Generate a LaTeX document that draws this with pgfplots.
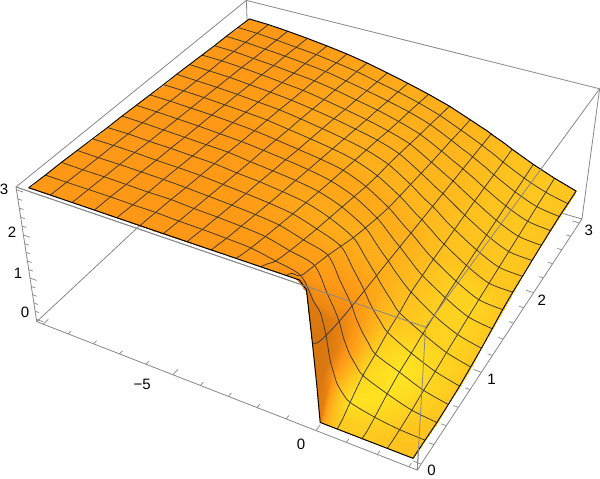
\documentclass[border=0pt]{standalone}
\usepackage{fontspec}
\setmainfont{Liberation Sans}
\usepackage{pgfplots}
\usepackage{pgfplotstable}
\pgfplotsset{compat=1.18}
\pgfplotstableread{
x y z c
-10 3 2.72 1.0
-9.1875 3 2.70 1.0
-8.375 3 2.66 1.0
-7.5625 3 2.61 1.05
-6.75 3 2.55 1.1
-5.9375 3 2.48 1.2
-5.125 3 2.39 1.3
-4.3125 3 2.28 1.4
-3.5 3 2.16 1.5
-2.6875 3 2.03 1.55
-1.875 3 1.88 1.6
-1.0625 3 1.69 1.7
-0.65 3 1.59 1.75
-0.43 3 1.54 1.8
-0.25 3 1.49 1.8
-0.12 3 1.45 1.85
0 3 1.42 1.85
0.12 3 1.39 1.9
0.3 3 1.34 1.95
0.5625 3 1.26 2.0
1.375 3 1.04 2.1
2.1875 3 0.85 2.2
3 3 0.69 2.1
-10 2.8125 2.74 1.0
-9.1875 2.8125 2.72 1.0
-8.375 2.8125 2.68 1.0
-7.5625 2.8125 2.63 1.05
-6.75 2.8125 2.58 1.1
-5.9375 2.8125 2.51 1.2
-5.125 2.8125 2.43 1.3
-4.3125 2.8125 2.32 1.4
-3.5 2.8125 2.21 1.5
-2.6875 2.8125 2.08 1.55
-1.875 2.8125 1.92 1.6
-1.0625 2.8125 1.71 1.7
-0.65 2.8125 1.60 1.75
-0.43 2.8125 1.54 1.8
-0.25 2.8125 1.49 1.8
-0.12 2.8125 1.45 1.85
0 2.8125 1.41 1.85
0.12 2.8125 1.38 1.9
0.3 2.8125 1.32 1.95
0.5625 2.8125 1.23 2.0
1.375 2.8125 0.99 2.1
2.1875 2.8125 0.80 2.2
3 2.8125 0.68 2.1
-10 2.625 2.76 1.0
-9.1875 2.625 2.74 1.0
-8.375 2.625 2.70 1.0
-7.5625 2.625 2.66 1.05
-6.75 2.625 2.61 1.1
-5.9375 2.625 2.55 1.2
-5.125 2.625 2.46 1.3
-4.3125 2.625 2.36 1.4
-3.5 2.625 2.25 1.5
-2.6875 2.625 2.13 1.55
-1.875 2.625 1.97 1.6
-1.0625 2.625 1.74 1.7
-0.65 2.625 1.61 1.75
-0.43 2.625 1.55 1.8
-0.25 2.625 1.49 1.8
-0.12 2.625 1.45 1.85
0 2.625 1.41 1.85
0.12 2.625 1.37 1.9
0.3 2.625 1.31 1.95
0.5625 2.625 1.21 2.0
1.375 2.625 0.95 2.1
2.1875 2.625 0.75 2.2
3 2.625 0.67 2.1
-10 2.4375 2.77 1.0
-9.1875 2.4375 2.76 1.0
-8.375 2.4375 2.72 1.0
-7.5625 2.4375 2.68 1.05
-6.75 2.4375 2.63 1.1
-5.9375 2.4375 2.58 1.2
-5.125 2.4375 2.50 1.3
-4.3125 2.4375 2.40 1.4
-3.5 2.4375 2.30 1.5
-2.6875 2.4375 2.17 1.55
-1.875 2.4375 2.01 1.6
-1.0625 2.4375 1.76 1.7
-0.65 2.4375 1.62 1.75
-0.43 2.4375 1.55 1.8
-0.25 2.4375 1.49 1.8
-0.12 2.4375 1.44 1.85
0 2.4375 1.40 1.85
0.12 2.4375 1.36 1.9
0.3 2.4375 1.29 1.95
0.5625 2.4375 1.19 2.0
1.375 2.4375 0.91 2.1
2.1875 2.4375 0.70 2.2
3 2.4375 0.64 2.1
-10 2.25 2.79 1.0
-9.1875 2.25 2.78 1.0
-8.375 2.25 2.75 1.0
-7.5625 2.25 2.71 1.05
-6.75 2.25 2.66 1.1
-5.9375 2.25 2.61 1.2
-5.125 2.25 2.53 1.3
-4.3125 2.25 2.44 1.4
-3.5 2.25 2.34 1.5
-2.6875 2.25 2.22 1.55
-1.875 2.25 2.06 1.6
-1.0625 2.25 1.78 1.7
-0.65 2.25 1.63 1.75
-0.43 2.25 1.55 1.8
-0.25 2.25 1.49 1.8
-0.12 2.25 1.44 1.85
0 2.25 1.39 1.85
0.12 2.25 1.34 1.9
0.3 2.25 1.27 1.95
0.5625 2.25 1.17 2.0
1.375 2.25 0.87 2.1
2.1875 2.25 0.65 2.2
3 2.25 0.60 2.1
-10 2.0625 2.81 1.0
-9.1875 2.0625 2.79 1.0
-8.375 2.0625 2.77 1.0
-7.5625 2.0625 2.73 1.05
-6.75 2.0625 2.69 1.1
-5.9375 2.0625 2.64 1.2
-5.125 2.0625 2.57 1.3
-4.3125 2.0625 2.49 1.4
-3.5 2.0625 2.39 1.5
-2.6875 2.0625 2.28 1.55
-1.875 2.0625 2.11 1.6
-1.0625 2.0625 1.81 1.7
-0.65 2.0625 1.64 1.75
-0.43 2.0625 1.55 1.8
-0.25 2.0625 1.49 1.8
-0.12 2.0625 1.43 1.85
0 2.0625 1.38 1.85
0.12 2.0625 1.33 1.9
0.3 2.0625 1.25 1.95
0.5625 2.0625 1.14 2.0
1.375 2.0625 0.83 2.1
2.1875 2.0625 0.60 2.2
3 2.0625 0.56 2.1
-10 1.875 2.83 1.0
-9.1875 1.875 2.81 1.0
-8.375 1.875 2.79 1.0
-7.5625 1.875 2.76 1.05
-6.75 1.875 2.72 1.1
-5.9375 1.875 2.68 1.2
-5.125 1.875 2.61 1.3
-4.3125 1.875 2.53 1.4
-3.5 1.875 2.44 1.5
-2.6875 1.875 2.33 1.55
-1.875 1.875 2.15 1.6
-1.0625 1.875 1.84 1.7
-0.65 1.875 1.65 1.75
-0.43 1.875 1.56 1.8
-0.25 1.875 1.49 1.8
-0.12 1.875 1.43 1.85
0 1.875 1.37 1.85
0.12 1.875 1.31 1.9
0.3 1.875 1.22 1.95
0.5625 1.875 1.11 2.0
1.375 1.875 0.79 2.1
2.1875 1.875 0.55 2.2
3 1.875 0.51 2.1
-10 1.6875 2.84 1.0
-9.1875 1.6875 2.83 1.0
-8.375 1.6875 2.81 1.0
-7.5625 1.6875 2.78 1.05
-6.75 1.6875 2.75 1.1
-5.9375 1.6875 2.71 1.2
-5.125 1.6875 2.64 1.3
-4.3125 1.6875 2.57 1.4
-3.5 1.6875 2.49 1.5
-2.6875 1.6875 2.38 1.55
-1.875 1.6875 2.18 1.6
-1.0625 1.6875 1.87 1.7
-0.65 1.6875 1.67 1.75
-0.43 1.6875 1.56 1.8
-0.25 1.6875 1.49 1.8
-0.12 1.6875 1.42 1.85
0 1.6875 1.36 1.85
0.12 1.6875 1.30 1.9
0.3 1.6875 1.20 1.95
0.5625 1.6875 1.08 2.0
1.375 1.6875 0.75 2.1
2.1875 1.6875 0.50 2.2
3 1.6875 0.47 2.1
-10 1.5 2.86 1
-9.1875 1.5 2.85 1
-8.375 1.5 2.83 1
-7.5625 1.5 2.81 1
-6.75 1.5 2.78 1
-5.9375 1.5 2.74 1.05
-5.125 1.5 2.68 1.1
-4.3125 1.5 2.61 1.15
-3.5 1.5 2.54 1.25
-2.6875 1.5 2.44 1.35
-1.875 1.5 2.23 1.4
-1.0625 1.5 1.91 1.5
-0.65 1.5 1.69 1.55
-0.43 1.5 1.57 1.6
-0.25 1.5 1.49 1.6
-0.12 1.5 1.42 1.65
0 1.5 1.35 1.7
0.12 1.5 1.28 1.75
0.3 1.5 1.18 1.85
0.5625 1.5 1.05 2.0
1.375 1.5 0.71 2.4
2.1875 1.5 0.45 2.5
3 1.5 0.40 2.2
-10 1.3125 2.88 1
-9.1875 1.3125 2.87 1
-8.375 1.3125 2.85 1
-7.5625 1.3125 2.83 1
-6.75 1.3125 2.80 1
-5.9375 1.3125 2.77 1.05
-5.125 1.3125 2.72 1.1
-4.3125 1.3125 2.66 1.15
-3.5 1.3125 2.59 1.25
-2.6875 1.3125 2.49 1.35
-1.875 1.3125 2.30 1.4
-1.0625 1.3125 1.98 1.5
-0.65 1.3125 1.73 1.55
-0.43 1.3125 1.59 1.6
-0.25 1.3125 1.49 1.6
-0.12 1.3125 1.41 1.65
0 1.3125 1.33 1.7
0.12 1.3125 1.26 1.75
0.3 1.3125 1.14 1.85
0.5625 1.3125 1.00 2.0
1.375 1.3125 0.66 2.4
2.1875 1.3125 0.39 2.5
3 1.3125 0.30 2.2
-10 1.125 2.90 1
-9.1875 1.125 2.89 1
-8.375 1.125 2.87 1
-7.5625 1.125 2.85 1
-6.75 1.125 2.83 1
-5.9375 1.125 2.81 1.05
-5.125 1.125 2.75 1.1
-4.3125 1.125 2.70 1.15
-3.5 1.125 2.64 1.25
-2.6875 1.125 2.55 1.35
-1.875 1.125 2.37 1.4
-1.0625 1.125 2.07 1.5
-0.65 1.125 1.77 1.55
-0.43 1.125 1.61 1.6
-0.25 1.125 1.49 1.6
-0.12 1.125 1.39 1.65
0 1.125 1.30 1.7
0.12 1.125 1.22 1.75
0.3 1.125 1.10 1.85
0.5625 1.125 0.95 2.0
1.375 1.125 0.59 2.4
2.1875 1.125 0.33 2.5
3 1.125 0.20 2.2
-10 0.9375 2.91 1
-9.1875 0.9375 2.91 1
-8.375 0.9375 2.89 1
-7.5625 0.9375 2.88 1
-6.75 0.9375 2.86 1
-5.9375 0.9375 2.84 1.05
-5.125 0.9375 2.79 1.1
-4.3125 0.9375 2.75 1.2
-3.5 0.9375 2.69 1.3
-2.6875 0.9375 2.61 1.4
-1.875 0.9375 2.44 1.5
-1.0625 0.9375 2.17 1.5
-0.65 0.9375 1.83 1.5
-0.43 0.9375 1.64 1.5
-0.25 0.9375 1.49 1.5
-0.12 0.9375 1.36 1.55
0 0.9375 1.26 1.6
0.12 0.9375 1.16 1.7
0.3 0.9375 1.02 1.8
0.5625 0.9375 0.82 2.0
1.375 0.9375 0.52 2.4
2.1875 0.9375 0.27 2.5
3 0.9375 0.13 2.2
-10 0.75 2.93 1
-9.1875 0.75 2.93 1
-8.375 0.75 2.92 1
-7.5625 0.75 2.90 1
-6.75 0.75 2.89 1
-5.9375 0.75 2.87 1
-5.125 0.75 2.83 1.05
-4.3125 0.75 2.79 1.1
-3.5 0.75 2.74 1.2
-2.6875 0.75 2.67 1.3
-1.875 0.75 2.51 1.4
-1.0625 0.75 2.30 1.4
-0.65 0.75 1.90 1.3
-0.43 0.75 1.68 1.2
-0.25 0.75 1.49 1.2
-0.12 0.75 1.32 1.3
0 0.75 1.19 1.4
0.12 0.75 1.07 1.6
0.3 0.75 0.92 1.8
0.5625 0.75 0.72 2.3
1.375 0.75 0.43 2.8
2.1875 0.75 0.20 2.6
3 0.75 0.06 2.2
-10 0.5625 2.95 1
-9.1875 0.5625 2.94 1
-8.375 0.5625 2.94 1
-7.5625 0.5625 2.93 1
-6.75 0.5625 2.92 1
-5.9375 0.5625 2.90 1
-5.125 0.5625 2.87 1.05
-4.3125 0.5625 2.84 1.05
-3.5 0.5625 2.80 1.1
-2.6875 0.5625 2.74 1.15
-1.875 0.5625 2.59 1.2
-1.0625 0.5625 2.43 1.2
-0.65 0.5625 1.96 1.05
-0.43 0.5625 1.71 0.95
-0.25 0.5625 1.49 0.9
-0.12 0.5625 1.27 1.0
0 0.5625 1.11 1.1
0.12 0.5625 0.97 1.4
0.3 0.5625 0.80 1.8
0.5625 0.5625 0.58 2.5
1.375 0.5625 0.36 3
2.1875 0.5625 0.14 2.6
3 0.5625 0.02 2.2
-10 0.375 2.97 1
-9.1875 0.375 2.96 1
-8.375 0.375 2.96 1
-7.5625 0.375 2.95 1
-6.75 0.375 2.94 1
-5.9375 0.375 2.94 1
-5.125 0.375 2.91 1
-4.3125 0.375 2.89 1
-3.5 0.375 2.86 1.05
-2.6875 0.375 2.81 1.1
-1.875 0.375 2.68 1.1
-1.0625 0.375 2.54 1.15
-0.65 0.375 2.03 0.9
-0.43 0.375 1.76 0.8
-0.25 0.375 1.50 0.6
-0.12 0.375 1.20 0.7
0 0.375 1.00 0.9
0.12 0.375 0.83 1.2
0.3 0.375 0.66 1.8
0.5625 0.375 0.46 2.6
1.375 0.375 0.24 2.9
2.1875 0.375 0.07 2.4
3 0.375 0 2.1
-10 0.1875 2.98 1
-9.1875 0.1875 2.98 1
-8.375 0.1875 2.98 1
-7.5625 0.1875 2.98 1
-6.75 0.1875 2.97 1
-5.9375 0.1875 2.97 1
-5.125 0.1875 2.95 1
-4.3125 0.1875 2.94 1
-3.5 0.1875 2.92 1
-2.6875 0.1875 2.89 1.05
-1.875 0.1875 2.79 1.05
-1.0625 0.1875 2.66 0.9
-0.65 0.1875 2.20 0.7
-0.43 0.1875 2.00 0.5
-0.25 0.1875 1.55 0.4
-0.12 0.1875 1.05 0.5
0 0.1875 0.78 0.9
0.12 0.1875 0.55 1.6
0.3 0.1875 0.38 2.3
0.5625 0.1875 0.22 2.9
1.375 0.1875 0.09 2.6
2.1875 0.1875 0.02 2.2
3 0.1875 0 2.1
-10 0.07 2.99 1
-9.1875 0.07 2.99 1
-8.375 0.07 2.99 1
-7.5625 0.07 2.99 1
-6.75 0.07 2.99 1
-5.9375 0.07 2.99 1
-5.125 0.07 2.98 1
-4.3125 0.07 2.98 1
-3.5 0.07 2.97 1
-2.6875 0.07 2.95 1
-1.875 0.07 2.93 1
-1.0625 0.07 2.92 0.9
-0.65 0.07 2.85 0.7
-0.43 0.07 2.45 0.5
-0.25 0.07 1.62 0.4
-0.12 0.07 0.95 0.4
0 0.07 0.45 0.6
0.12 0.07 0.20 1.5
0.3 0.07 0.08 2.0
0.5625 0.07 0.05 2.3
1.375 0.07 0.01 2.3
2.1875 0.07 0 2.1
3 0.07 0 2.0
-10 0 3 1
-9.1875 0 3 1
-8.375 0 3 1
-7.5625 0 3 1
-6.75 0 3 1
-5.9375 0 3 1
-5.125 0 3 1
-4.3125 0 3 1
-3.5 0 3 1
-2.6875 0 3 1
-1.875 0 3 1
-1.0625 0 3 0.9
-0.65 0 3 0.7
-0.43 0 2.85 0.5
-0.25 0 1.75 0.4
-0.12 0 0.90 0.4
0 0 0 0.6
0.12 0 0 1.5
0.3 0 0 2.0
0.5625 0 0 2.3
1.375 0 0 2.3
2.1875 0 0 2.1
3 0 0 2.0
}\surft
\pgfplotstableread{
x y z
-10.26 -0.06 -0.06
-10.26 -0.06 3.06
3.26 -0.06 3.06
3.26 -0.06 -0.06
-10.26 -0.06 -0.06
nan nan nan
3.26 -0.06 -0.06
3.26 3.06 -0.06
3.26 3.06 3.06
-10.26 3.06 3.06
-10.26 -0.06 3.06
nan nan nan
-10.26 -0.06 -0.06
-10.26 3.06 -0.06
3.26 3.06 -0.06
nan nan nan
-10.26 3.06 -0.06
-10.26 3.06 3.06
}\backbox
\pgfplotstableread{
x y z
-10.26 -0.06 3.06
3.26 -0.06 3.06
3.26 3.06 3.06
nan nan nan
3.26 -0.06 3.06
3.26 -0.06 -0.06
}\frontbox
\pgfplotstableread{
x y z
-10 -0.06 -0.06
-10 0.0025 -0.06
nan nan nan
-9 -0.06 -0.06
-9 -0.0225 -0.06
nan nan nan
-8 -0.06 -0.06
-8 -0.0225 -0.06
nan nan nan
-7 -0.06 -0.06
-7 -0.0225 -0.06
nan nan nan
-6 -0.06 -0.06
-6 -0.0225 -0.06
nan nan nan
-5 -0.06 -0.06
-5 0.0025 -0.06
nan nan nan
-4 -0.06 -0.06
-4 -0.0225 -0.06
nan nan nan
-3 -0.06 -0.06
-3 -0.0225 -0.06
nan nan nan
-2 -0.06 -0.06
-2 -0.0225 -0.06
nan nan nan
-1 -0.06 -0.06
-1 -0.0225 -0.06
nan nan nan
0 -0.06 -0.06
0 0.0025 -0.06
nan nan nan
1 -0.06 -0.06
1 -0.0225 -0.06
nan nan nan
2 -0.06 -0.06
2 -0.0225 -0.06
nan nan nan
3 -0.06 -0.06
3 -0.0225 -0.06
nan nan nan
3.26 0 -0.06
3.0 0 -0.06
nan nan nan
3.26 0.2 -0.06
3.1 0.2 -0.06
nan nan nan
3.26 0.4 -0.06
3.1 0.4 -0.06
nan nan nan
3.26 0.6 -0.06
3.1 0.6 -0.06
nan nan nan
3.26 0.8 -0.06
3.1 0.8 -0.06
nan nan nan
3.26 1 -0.06
3.0 1 -0.06
nan nan nan
3.26 1.2 -0.06
3.1 1.2 -0.06
nan nan nan
3.26 1.4 -0.06
3.1 1.4 -0.06
nan nan nan
3.26 1.6 -0.06
3.1 1.6 -0.06
nan nan nan
3.26 1.8 -0.06
3.1 1.8 -0.06
nan nan nan
3.26 2 -0.06
3.0 2 -0.06
nan nan nan
3.26 2.2 -0.06
3.1 2.2 -0.06
nan nan nan
3.26 2.4 -0.06
3.1 2.4 -0.06
nan nan nan
3.26 2.6 -0.06
3.1 2.6 -0.06
nan nan nan
3.26 2.8 -0.06
3.1 2.8 -0.06
nan nan nan
3.26 3 -0.06
3.0 3 -0.06
nan nan nan
-10.26 -0.06 0
-10 -0.06 0
nan nan nan
-10.26 -0.06 0.2
-10.1 -0.06 0.2
nan nan nan
-10.26 -0.06 0.4
-10.1 -0.06 0.4
nan nan nan
-10.26 -0.06 0.6
-10.1 -0.06 0.6
nan nan nan
-10.26 -0.06 0.8
-10.1 -0.06 0.8
nan nan nan
-10.26 -0.06 1
-10 -0.06 1
nan nan nan
-10.26 -0.06 1.2
-10.1 -0.06 1.2
nan nan nan
-10.26 -0.06 1.4
-10.1 -0.06 1.4
nan nan nan
-10.26 -0.06 1.6
-10.1 -0.06 1.6
nan nan nan
-10.26 -0.06 1.8
-10.1 -0.06 1.8
nan nan nan
-10.26 -0.06 2
-10 -0.06 2
nan nan nan
-10.26 -0.06 2.2
-10.1 -0.06 2.2
nan nan nan
-10.26 -0.06 2.4
-10.1 -0.06 2.4
nan nan nan
-10.26 -0.06 2.6
-10.1 -0.06 2.6
nan nan nan
-10.26 -0.06 2.8
-10.1 -0.06 2.8
nan nan nan
-10.26 -0.06 3
-10 -0.06 3
}\tickst
\def\Uu{((\thisrow{x}+10.26)/13.52)}
\def\Vv{((\thisrow{y}+0.06)/3.12)}
\def\Zz{((\thisrow{z}+0.06)/3.12)}
\def\Den{(1-0.1246*\Uu+0.21*\Vv-0.0684*\Zz)}
\def\PX{(36.7+328.1*\Uu+266*\Vv-21.8*\Zz)/\Den}
\def\PY{(324.5+89.3*\Uu-172.8*\Vv-147.5*\Zz)/\Den}
\pgfplotstablecreatecol[create col/expr={\PX}]{px}\surft
\pgfplotstablecreatecol[create col/expr={\PY}]{py}\surft
\definecolor{boxg}{RGB}{135,135,135}
\definecolor{meshc}{RGB}{60,55,40}
\begin{document}
\begin{tikzpicture}
\begin{axis}[scale only axis,width=600pt,height=487pt,xmin=0,xmax=600,ymin=0,ymax=487,y dir=reverse,hide axis,
 colormap={o}{rgb255=(190,95,10) rgb255=(255,152,22) rgb255=(255,192,30) rgb255=(255,230,35)},
 point meta min=0,point meta max=3]
\addplot[boxg,line width=0.8pt,no markers,unbounded coords=jump] table[x expr={\PX},y expr={\PY}] {\backbox};
\addplot[boxg,line width=0.7pt,no markers,unbounded coords=jump] table[x expr={\PX},y expr={\PY}] {\tickst};
\addplot[surf,shader=interp,mesh/cols=23,point meta=\thisrow{c}] table[x=px,y=py] {\surft};
\pgfplotsinvokeforeach{2.8125,2.625,2.4375,2.25,2.0625,1.875,1.6875,1.5,1.3125,1.125,0.9375,0.75,0.5625,0.375,0.1875}{
 \addplot[meshc,line width=0.75pt,no markers,smooth,unbounded coords=discard] table[x expr={abs(\thisrow{y}-#1)<0.001?\thisrow{px}:nan},y=py] {\surft};
}
\pgfplotsinvokeforeach{-9.1875,-8.375,-7.5625,-6.75,-5.9375,-5.125,-4.3125,-3.5,-2.6875,-1.875,-1.0625,-0.25,0.5625,1.375,2.1875}{
 \addplot[meshc,line width=0.75pt,no markers,smooth,unbounded coords=discard] table[x expr={abs(\thisrow{x}-(#1))<0.001?\thisrow{px}:nan},y=py] {\surft};
}
\pgfplotsinvokeforeach{3,0}{
 \addplot[black,line width=1pt,no markers,unbounded coords=discard] table[x expr={abs(\thisrow{y}-#1)<0.001?\thisrow{px}:nan},y=py] {\surft};
}
\pgfplotsinvokeforeach{-10,3}{
 \addplot[black,line width=0.9pt,no markers,unbounded coords=discard] table[x expr={abs(\thisrow{x}-(#1))<0.001?\thisrow{px}:nan},y=py] {\surft};
}
\addplot[boxg,line width=0.8pt,no markers,unbounded coords=jump] table[x expr={\PX},y expr={\PY}] {\frontbox};
\node[font=\fontsize{15}{15}\selectfont] at (axis cs:4,192) {3};
\node[font=\fontsize{15}{15}\selectfont] at (axis cs:12,235) {2};
\node[font=\fontsize{15}{15}\selectfont] at (axis cs:18,276) {1};
\node[font=\fontsize{15}{15}\selectfont] at (axis cs:25,315) {0};
\node[font=\fontsize{15}{15}\selectfont] at (axis cs:142,387) {−5};
\node[font=\fontsize{15}{15}\selectfont] at (axis cs:300.7,447) {0};
\node[font=\fontsize{15}{15}\selectfont] at (axis cs:431,473) {0};
\node[font=\fontsize{15}{15}\selectfont] at (axis cs:491,382) {1};
\node[font=\fontsize{15}{15}\selectfont] at (axis cs:541,303) {2};
\node[font=\fontsize{15}{15}\selectfont] at (axis cs:588,233) {3};
\end{axis}
\end{tikzpicture}
\end{document}
